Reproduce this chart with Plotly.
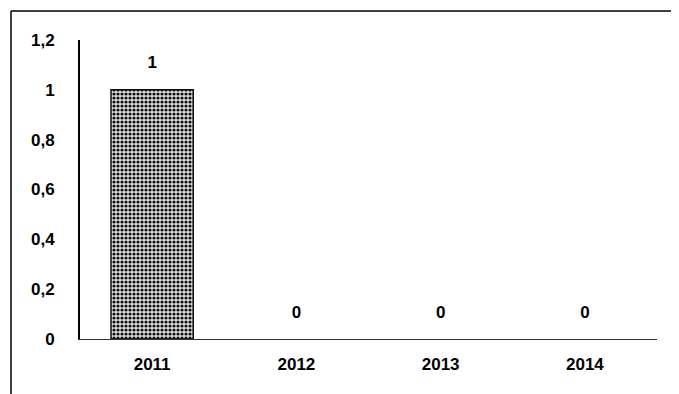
import plotly.graph_objects as go

# Values
years = ["2011", "2012", "2013", "2014"]
values = [1, 0, 0, 0]
y_ticks = [0, 0.2, 0.4, 0.6, 0.8, 1, 1.2]

# the page body adds an 8px margin, so the figure is shifted and shrunk by 8px
W, H = 679, 394
off = 8
fw, fh = W - off, H - off
ml, mt = 80 - off, 40 - off
pw, ph = 577, 299
mr, mb = fw - ml - pw, fh - mt - ph

font = dict(family="Liberation Sans", size=17, color="black", weight="bold")

fig = go.Figure(go.Bar(
    x=years,
    y=values,
    width=0.57,
    marker=dict(
        color="#8a8a8a",
        pattern=dict(shape=".", size=4, solidity=0.5, fgcolor="#111111",
                     bgcolor="#e0e0e0", fillmode="replace"),
        line=dict(color="#111111", width=[1.5 if v else 0 for v in values]),
    ),
))

# data labels sit well above the bar tops (invisible marker pushes the text up)
fig.add_trace(go.Scatter(
    x=years, y=values, mode="markers+text",
    text=[str(v) for v in values], textposition="top center",
    textfont=font, marker=dict(size=26, opacity=0),
    cliponaxis=False, hoverinfo="skip",
))

# outer frame of the chart: only its left and top edges are in the picture
fx0 = (11 - off - ml) / pw
fx1 = (fw + 10 - ml) / pw
fy0 = -(fh + 10 - (mt + ph)) / ph
fy1 = 1 + (mt - (11 - off)) / ph
frame = dict(color="black", width=1.5)
fig.add_shape(type="line", xref="paper", yref="paper",
              x0=fx0, x1=fx0, y0=fy0, y1=fy1, line=frame)
fig.add_shape(type="line", xref="paper", yref="paper",
              x0=fx0, x1=fx1, y0=fy1, y1=fy1, line=frame)

fig.update_layout(
    width=fw, height=fh,
    margin=dict(l=ml, r=mr, t=mt, b=mb),
    plot_bgcolor="white", paper_bgcolor="white",
    separators=",.",
    showlegend=False,
    font=font,
)
fig.update_xaxes(type="category", showline=True, linecolor="#333333", linewidth=1,
                 ticks="", ticklabelstandoff=10, tickfont=font)
fig.update_yaxes(range=[0, 1.2], tickvals=y_ticks, showgrid=False, zeroline=False,
                 showline=True, linecolor="black", linewidth=2,
                 ticks="", ticklabelstandoff=20, tickfont=font)

fig.write_html("out.html")
